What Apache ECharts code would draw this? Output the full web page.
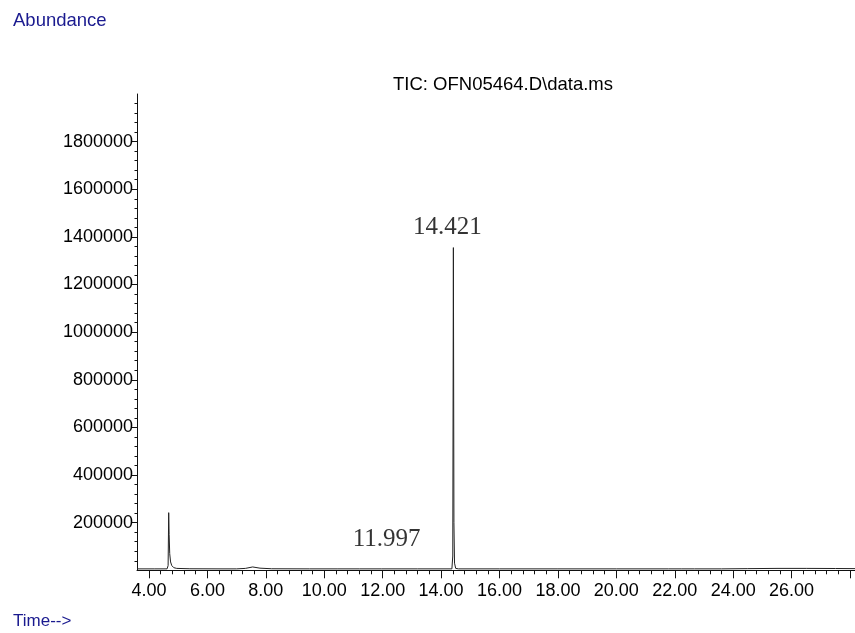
<!DOCTYPE html>
<html>
<head>
<meta charset="utf-8">
<style>
  html, body { margin: 0; padding: 0; background: #fff; }
  #chart { width: 855px; height: 633px; }
</style>
<script src="https://cdn.jsdelivr.net/npm/echarts@6/dist/echarts.min.js"></script>
</head>
<body>
<div id="chart"></div>
<script>
// Total ion chromatogram: retention time (min) vs abundance
const times = [
  3.59, 4.20, 4.62, 4.655, 4.675, 4.69, 4.71, 4.74, 4.78, 4.85, 4.95, 5.40,
  6.50, 7.00, 7.30, 7.55, 7.80, 8.20, 9.50, 10.44, 10.47, 10.50, 11.20,
  11.97, 11.997, 12.02, 13.20, 14.37, 14.40, 14.421, 14.44, 14.46, 14.50, 14.60,
  16.00, 18.00, 20.00, 21.78, 21.80, 21.82, 22.22, 22.24, 22.26, 22.68, 22.70, 22.72,
  23.60, 24.50, 25.50, 26.50, 27.50, 28.17
];
const abundance = [
  6000, 6000, 6000, 20000, 242000, 150000, 70000, 35000, 20000, 11000, 8000, 6500,
  6000, 6000, 8000, 14000, 9000, 6500, 6000, 6000, 11000, 6000, 6000,
  6000, 14000, 6000, 6000, 6000, 60000, 1355000, 200000, 30000, 8000, 6000,
  6000, 6000, 6000, 6000, 12000, 6000, 6000, 13000, 6000, 6000, 12000, 6000,
  6000, 7000, 8000, 8000, 7500, 7000
];
// Labelled peaks (retention times)
const labelledPeaks = [11.997, 14.421];

// Axis ticks and labels
const xMajorTicks = [4, 6, 8, 10, 12, 14, 16, 18, 20, 22, 24, 26, 28];
const xTickLabels = [4, 6, 8, 10, 12, 14, 16, 18, 20, 22, 24, 26];
const yTickLabels = [200000, 400000, 600000, 800000, 1000000, 1200000, 1400000, 1600000, 1800000];

const X_MIN = 3.59, X_MAX = 28.17, Y_MIN = 0, Y_MAX = 2000000;

const xMinorTicks = [];
for (let v = 4; v <= X_MAX + 1e-9; v = Math.round((v + 0.4) * 10) / 10) {
  if (Math.abs(v / 2 - Math.round(v / 2)) > 1e-6) xMinorTicks.push(v);
}
const yMinorTicks = [];
for (let v = 40000; v < Y_MAX; v += 40000) {
  if (v % 200000 !== 0) yMinorTicks.push(v);
}

const traceData = times.map((t, i) => [t, abundance[i]]);
const labelStyle = {
  11.997: { distance: 15, offset: [4, 0] },
  14.421: { distance: 8, offset: [-6, 0] }
};
const peakData = labelledPeaks.map(t => {
  const i = times.indexOf(t);
  return {
    value: [t, abundance[i]],
    label: Object.assign({ show: true, position: 'top' }, labelStyle[t])
  };
});

const axisFont = { fontFamily: 'Liberation Sans, Arial, sans-serif', fontSize: 18, color: '#000' };
const lineColor = '#111';

const chart = echarts.init(document.getElementById('chart'), null, { renderer: 'canvas' });
chart.setOption({
  animation: false,
  backgroundColor: '#fff',
  grid: { left: 137, right: 0, top: 94, bottom: 62.7, containLabel: false },
  graphic: [
    { type: 'text', left: 13, top: 11, style: { text: 'Abundance', fill: '#1a1a8f',
      font: '18.5px "Liberation Sans", Arial, sans-serif' } },
    { type: 'text', left: 13, top: 612.5, style: { text: 'Time-->', fill: '#1a1a8f',
      font: '17px "Liberation Sans", Arial, sans-serif' } },
    { type: 'text', left: 393, top: 75.5, style: { text: 'TIC: OFN05464.D\\data.ms', fill: '#000',
      font: '18.5px "Liberation Sans", Arial, sans-serif' } }
  ],
  xAxis: [
    {
      type: 'value', min: X_MIN, max: X_MAX, position: 'bottom',
      axisLine: { show: true, onZero: false, lineStyle: { color: lineColor, width: 1 } },
      axisTick: { show: true, customValues: xMajorTicks, length: 8, lineStyle: { color: lineColor } },
      axisLabel: { show: true, customValues: xTickLabels, margin: 12,
        formatter: v => Number(v).toFixed(2), ...axisFont },
      splitLine: { show: false }
    },
    {
      type: 'value', min: X_MIN, max: X_MAX, position: 'bottom',
      axisLine: { show: false },
      axisTick: { show: true, customValues: xMinorTicks, length: 4, lineStyle: { color: lineColor } },
      axisLabel: { show: false },
      splitLine: { show: false }
    }
  ],
  yAxis: [
    {
      type: 'value', min: Y_MIN, max: Y_MAX, position: 'left',
      axisLine: { show: true, onZero: false, lineStyle: { color: lineColor, width: 1 } },
      axisTick: { show: true, customValues: yTickLabels, length: 5, lineStyle: { color: lineColor } },
      axisLabel: { show: true, customValues: yTickLabels, margin: 4,
        formatter: v => String(v), ...axisFont },
      splitLine: { show: false }
    },
    {
      type: 'value', min: Y_MIN, max: Y_MAX, position: 'left',
      axisLine: { show: false },
      axisTick: { show: true, customValues: yMinorTicks, length: 2.5, lineStyle: { color: lineColor } },
      axisLabel: { show: false },
      splitLine: { show: false }
    }
  ],
  series: [
    {
      name: 'TIC', type: 'line', data: traceData, xAxisIndex: 0, yAxisIndex: 0,
      showSymbol: false, symbol: 'none',
      lineStyle: { color: '#222', width: 1 }
    },
    {
      name: 'peaks', type: 'scatter', data: peakData, xAxisIndex: 0, yAxisIndex: 0,
      symbolSize: 0.1, itemStyle: { color: 'rgba(0,0,0,0)' },
      label: {
        show: true, position: 'top',
        formatter: p => p.value[0].toFixed(3),
        fontFamily: '"Liberation Serif", "Times New Roman", serif', fontSize: 25, color: '#000'
      }
    }
  ]
});
</script>
</body>
</html>
